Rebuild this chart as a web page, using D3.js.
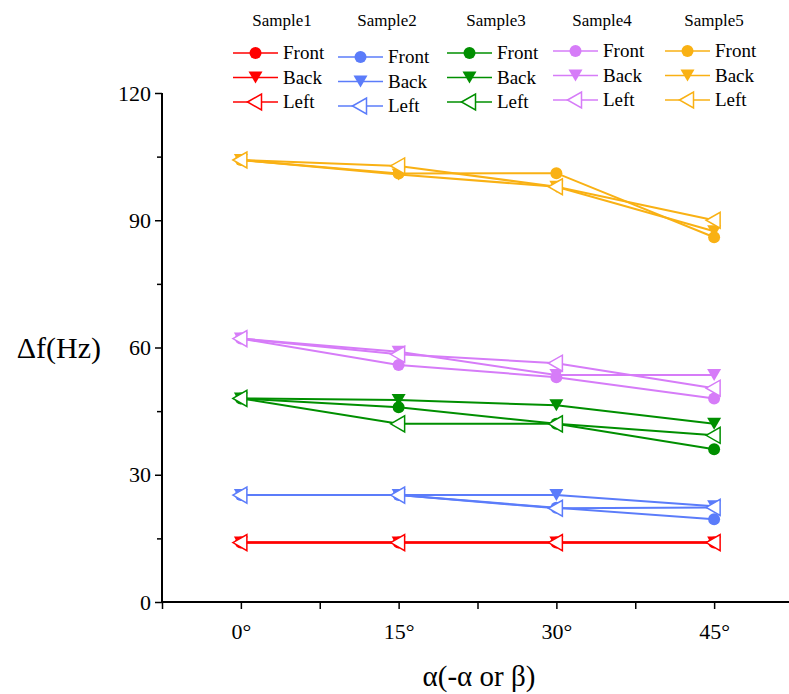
<!DOCTYPE html>
<html lang="en">
  <head>
    <meta charset="utf-8" />
    <title>Delta f vs angle</title>
    <script src="https://d3js.org/d3.v7.js"></script>
    <style>
      body { margin: 0; background: #fff; }
      text { font-family: "Liberation Serif", "Times New Roman", serif; }
    </style>
  </head>
  <body>
    <div id="graph"></div>
    <script>

    // data
    var angles = [0, 15, 30, 45];
    var samples = ["Sample1", "Sample2", "Sample3", "Sample4", "Sample5"];
    var directions = ["Front", "Back", "Left"];
    var colors = ["#ff0000", "#5b7cfa", "#008f00", "#d67cf8", "#f9b114"];

    // one row per sample, values at 0, 15, 30, 45 degrees
    var frontValues = [
      [14, 14, 14, 14],
      [25.2, 25.2, 22.2, 19.5],
      [48, 45.9, 42, 36],
      [62.1, 55.9, 53, 48],
      [104.2, 101, 101.1, 86]
    ];
    var backValues = [
      [14, 14, 14, 14],
      [25.2, 25.2, 25.2, 22.6],
      [48, 47.6, 46.4, 42],
      [62.1, 59, 53.5, 53.5],
      [104.2, 100.8, 97.9, 87.4]
    ];
    var leftValues = [
      [14, 14, 14, 14],
      [25.2, 25.2, 22.1, 22.3],
      [48, 42, 42, 39.3],
      [62.1, 58.4, 56.3, 50.4],
      [104.2, 102.8, 97.9, 90]
    ];
    var yTicks = [0, 30, 60, 90, 120];

    var w = 789, h = 694;
    var svg = d3.select("#graph")
      .append("svg")
        .attr("width", w)
        .attr("height", h);

    // scales
    var x = d3.scaleLinear().domain([-7.5, 52.5]).range([162, 793]);
    var y = d3.scaleLinear().domain([0, 120]).range([602, 93]);

    // axes
    svg.append("g")
      .attr("transform", "translate(162,0)")
      .call(d3.axisLeft(y).tickValues(yTicks).tickSize(7).tickPadding(4));
    svg.append("g")
      .attr("transform", "translate(162,0)")
      .call(d3.axisLeft(y).tickValues([15, 45, 75, 105]).tickSize(5).tickFormat(""));

    svg.append("g")
      .attr("transform", "translate(0,602)")
      .call(d3.axisBottom(x).tickValues(angles).tickSize(7).tickPadding(14)
        .tickFormat(d => d + "°"));
    svg.append("g")
      .attr("transform", "translate(0,602)")
      .call(d3.axisBottom(x).tickValues([-7.5, 7.5, 22.5, 37.5]).tickSize(7).tickFormat(""));

    svg.selectAll(".domain").attr("d", null);
    // draw the axis lines ourselves so they stop where the picture does
    svg.append("line")
      .attr("x1", 162).attr("x2", 162)
      .attr("y1", y(120)).attr("y2", y(0) + 1)
      .attr("stroke", "#000").attr("stroke-width", 2);
    svg.append("line")
      .attr("x1", 161).attr("x2", w)
      .attr("y1", y(0)).attr("y2", y(0))
      .attr("stroke", "#000").attr("stroke-width", 2);

    svg.selectAll(".tick line").attr("stroke-width", 1.5);
    svg.selectAll(".tick text")
      .attr("font-size", 22)
      .attr("fill", "#000");

    // axis titles
    svg.append("text")
      .attr("x", 101)
      .attr("y", 358)
      .attr("text-anchor", "end")
      .attr("font-size", 30)
      .text("Δf(Hz)");

    svg.append("text")
      .attr("x", 479)
      .attr("y", 686)
      .attr("text-anchor", "middle")
      .attr("font-size", 29)
      .text("α(-α or β)");

    // marker shapes
    function marker(g, dir, color, cx, cy) {
      if (dir === "Front") {
        g.append("circle")
          .attr("cx", cx).attr("cy", cy).attr("r", 6)
          .attr("fill", color);
      } else if (dir === "Back") {
        g.append("path")
          .attr("d", `M${cx - 7},${cy - 6}L${cx + 7},${cy - 6}L${cx},${cy + 6}Z`)
          .attr("fill", color);
      } else {
        g.append("path")
          .attr("d", `M${cx - 8},${cy}L${cx + 6},${cy - 8}L${cx + 6},${cy + 8}Z`)
          .attr("fill", "#fff")
          .attr("stroke", color)
          .attr("stroke-width", 1.5);
      }
    }

    var valueSets = {Front: frontValues, Back: backValues, Left: leftValues};
    var line = d3.line()
      .x((d, i) => x(angles[i]))
      .y(d => y(d));

    var plot = svg.append("g");
    samples.forEach(function (s, si) {
      directions.forEach(function (dir) {
        var vals = valueSets[dir][si];
        plot.append("path")
          .attr("d", line(vals))
          .attr("fill", "none")
          .attr("stroke", colors[si])
          .attr("stroke-width", 2);
        vals.forEach(function (v, i) {
          marker(plot, dir, colors[si], x(angles[i]), y(v));
        });
      });
    });

    // legend
    var legendX = [233, 338, 447, 553, 665];
    var legendY = [53, 57, 53, 51, 51];
    var legend = svg.append("g");
    samples.forEach(function (s, si) {
      legend.append("text")
        .attr("x", legendX[si] + 49)
        .attr("y", 26)
        .attr("text-anchor", "middle")
        .attr("font-size", 17)
        .text(s);
      directions.forEach(function (dir, di) {
        var ly = legendY[si] + di * 24.5;
        legend.append("line")
          .attr("x1", legendX[si]).attr("x2", legendX[si] + 45)
          .attr("y1", ly).attr("y2", ly)
          .attr("stroke", colors[si])
          .attr("stroke-width", 1.5);
        marker(legend, dir, colors[si], legendX[si] + 22.5, ly);
        legend.append("text")
          .attr("x", legendX[si] + 50)
          .attr("y", ly + 6)
          .attr("font-size", 19)
          .text(dir);
      });
    });

    </script>
  </body>
</html>
